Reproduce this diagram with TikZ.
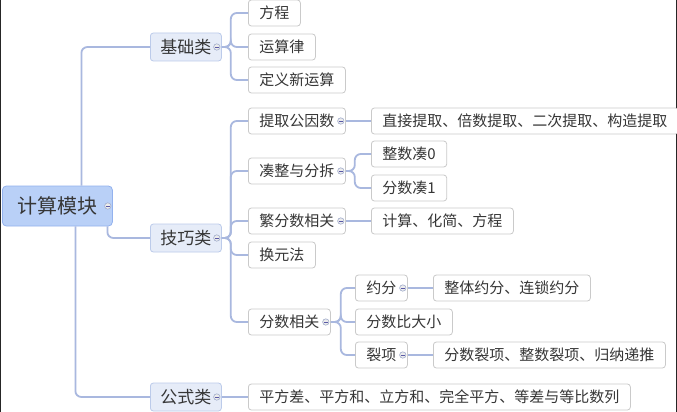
\documentclass[tikz,border=0pt]{standalone}
\usepackage{fontspec}
\setmainfont{Noto Sans CJK SC}
\definecolor{linkblue}{HTML}{A9B8DF}
\definecolor{rootfill}{HTML}{B9D0F7}
\definecolor{rootedge}{HTML}{93B2EE}
\definecolor{catfill}{HTML}{E6ECF8}
\definecolor{catedge}{HTML}{BCCBEA}
\definecolor{leafedge}{HTML}{CACACA}
\definecolor{textgray}{HTML}{363636}
\begin{document}
\begin{tikzpicture}[x=1pt,y=-1pt,
	root/.style={draw=rootedge, fill=rootfill, rounded corners=4pt, line width=0.8pt, anchor=west, minimum height=40pt, inner xsep=15pt, text=textgray, font=\fontsize{20}{24}\selectfont},
	cat/.style={draw=catedge, fill=catfill, rounded corners=3pt, line width=0.8pt, anchor=west, minimum height=28pt, inner xsep=10pt, text=textgray, font=\fontsize{17}{20}\selectfont},
	leaf/.style={draw=leafedge, fill=white, rounded corners=3pt, line width=0.8pt, anchor=west, minimum height=26pt, inner xsep=11pt, text=textgray, font=\fontsize{15}{18}\selectfont},
	link/.style={draw=linkblue, line width=1.8pt, rounded corners=6pt},
	foldc/.style={draw=linkblue!80!gray, fill=gray!15, line width=0.6pt}
]
	\useasboundingbox (0,0) rectangle (677,412);
	\fill[white] (0,0) rectangle (677,412);
	\draw[black!85, line width=1.2pt] (0.6,0) -- (0.6,412);
	\draw[black!85, line width=1.2pt] (676.4,0) -- (676.4,412);

	% root and the three classes
	\node (root) at (2,206)	[root]	{计算模块};
	\node (jc) at (150,47)	[cat]	{基础类};
	\node (jq) at (150,238)	[cat]	{技巧类};
	\node (gs) at (150,397)	[cat]	{公式类};

	% basic
	\node (fc) at (248,13)	[leaf]	{方程};
	\node (ysl) at (248,47)	[leaf]	{运算律};
	\node (dy) at (248,80)	[leaf]	{定义新运算};

	% skills
	\node (tq) at (248,121)	[leaf]	{提取公因数};
	\node (cz) at (248,171)	[leaf]	{凑整与分拆};
	\node (ff) at (248,221)	[leaf]	{繁分数相关};
	\node (hy) at (248,255)	[leaf]	{换元法};
	\node (fs) at (248,322)	[leaf]	{分数相关};
	\node (zjtq) at (371,121)	[leaf]	{直接提取、倍数提取、二次提取、构造提取};
	\node (zs0) at (371,154)	[leaf]	{整数凑0};
	\node (fs1) at (371,188)	[leaf]	{分数凑1};
	\node (jhf) at (371,221)	[leaf]	{计算、化简、方程};
	\node (yf) at (355,288)	[leaf]	{约分};
	\node (fsb) at (355,322)	[leaf]	{分数比大小};
	\node (lx) at (355,355)	[leaf]	{裂项};
	\node (ztyf) at (433,288)	[leaf]	{整体约分、连锁约分};
	\node (fslx) at (433,355)	[leaf]	{分数裂项、整数裂项、归纳递推};

	% formulas
	\node (gsl) at (248,397)	[leaf]	{平方差、平方和、立方和、完全平方、等差与等比数列};

	\draw[link] ([xshift=24pt]root.north) |- (jc.west);
	\draw[link] ([xshift=50pt]root.south) |- (jq.west);
	\draw[link] ([xshift=18pt]root.south) |- (gs.west);
	\foreach \c in {fc,ysl,dy}
		\draw[link] (jc.east) -- ++(9,0) |- (\c.west);
	\foreach \c in {tq,cz,ff,hy,fs}
		\draw[link] (jq.east) -- ++(9,0) |- (\c.west);
	\foreach \c in {zs0,fs1}
		\draw[link] (cz.east) -- ++(9,0) |- (\c.west);
	\foreach \c in {yf,fsb,lx}
		\draw[link] (fs.east) -- ++(10,0) |- (\c.west);
	\draw[link] (tq) -- (zjtq);
	\draw[link] (ff) -- (jhf);
	\draw[link] (yf) -- (ztyf);
	\draw[link] (lx) -- (fslx);
	\draw[link] (gs) -- (gsl);

	% fold marks
	\foreach \n in {root,jc,jq,gs,tq,cz,ff,fs,yf,lx} {
		\draw[foldc] ([xshift=-5pt]\n.east) circle (3.2pt);
		\draw[gray!70!blue, line width=0.6pt] ([xshift=-6.8pt]\n.east) -- ([xshift=-3.2pt]\n.east);
	}
\end{tikzpicture}
\end{document}
